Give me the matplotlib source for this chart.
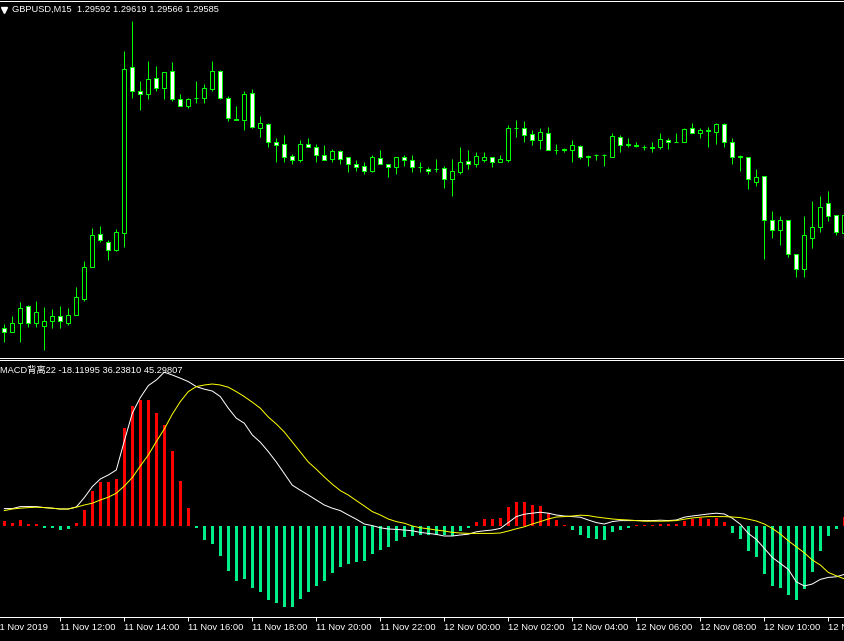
import matplotlib
matplotlib.use("Agg")
import matplotlib.pyplot as plt
from matplotlib.lines import Line2D
from matplotlib.transforms import blended_transform_factory
import numpy as np

# ---------------- data (GBPUSD M15 candles) ----------------
opens = [1.28945, 1.28937, 1.28955, 1.28988, 1.28953, 1.28949, 1.28959, 1.28967, 1.28955, 1.28971,
         1.29003, 1.29067, 1.29131, 1.29117, 1.29100, 1.29135, 1.29465, 1.29419, 1.29413, 1.29443,
         1.29425, 1.29457, 1.29401, 1.29389, 1.29404, 1.29403, 1.29423, 1.29459, 1.29403, 1.29362,
         1.29361, 1.29413, 1.29345, 1.29351, 1.29317, 1.29311, 1.29287, 1.29279, 1.29311, 1.29307,
         1.29291, 1.29283, 1.29297, 1.29285, 1.29271, 1.29267, 1.29259, 1.29283, 1.29273, 1.29265,
         1.29285, 1.29279, 1.29266, 1.29261, 1.29263, 1.29263, 1.29241, 1.29257, 1.29277, 1.29273,
         1.29281, 1.29285, 1.29277, 1.29281, 1.29344, 1.29343, 1.29331, 1.29319, 1.29333, 1.29299,
         1.29301, 1.29301, 1.29307, 1.29288, 1.29289, 1.29289, 1.29285, 1.29327, 1.29311, 1.29309,
         1.29305, 1.29305, 1.29305, 1.29319, 1.29316, 1.29317, 1.29343, 1.29335, 1.29339, 1.29337,
         1.29351, 1.29315, 1.29287, 1.29285, 1.29237, 1.29247, 1.29159, 1.29141, 1.29159, 1.29093,
         1.29063, 1.29125, 1.29147, 1.29193, 1.29169, 1.29135]
highs = [1.28952, 1.28967, 1.28996, 1.28990, 1.28998, 1.28986, 1.28982, 1.28988, 1.28984, 1.29026,
         1.29078, 1.29144, 1.29148, 1.29121, 1.29142, 1.29498, 1.29558, 1.29438, 1.29478, 1.29468,
         1.29456, 1.29476, 1.29411, 1.29403, 1.29438, 1.29433, 1.29478, 1.29460, 1.29409, 1.29387,
         1.29417, 1.29421, 1.29369, 1.29353, 1.29323, 1.29331, 1.29292, 1.29320, 1.29324, 1.29313,
         1.29309, 1.29303, 1.29301, 1.29286, 1.29279, 1.29277, 1.29291, 1.29299, 1.29273, 1.29285,
         1.29289, 1.29289, 1.29277, 1.29265, 1.29283, 1.29269, 1.29283, 1.29307, 1.29299, 1.29297,
         1.29295, 1.29285, 1.29291, 1.29351, 1.29359, 1.29357, 1.29339, 1.29345, 1.29347, 1.29313,
         1.29304, 1.29319, 1.29311, 1.29291, 1.29293, 1.29293, 1.29335, 1.29329, 1.29325, 1.29317,
         1.29311, 1.29315, 1.29335, 1.29323, 1.29333, 1.29345, 1.29353, 1.29343, 1.29347, 1.29355,
         1.29353, 1.29325, 1.29291, 1.29285, 1.29261, 1.29247, 1.29179, 1.29167, 1.29159, 1.29093,
         1.29167, 1.29197, 1.29209, 1.29217, 1.29169, 1.29200]
lows = [1.28917, 1.28937, 1.28917, 1.28947, 1.28947, 1.28901, 1.28945, 1.28945, 1.28951, 1.28971,
        1.28997, 1.29065, 1.29116, 1.29080, 1.29098, 1.29106, 1.29405, 1.29381, 1.29401, 1.29419,
        1.29401, 1.29399, 1.29387, 1.29383, 1.29393, 1.29393, 1.29417, 1.29401, 1.29357, 1.29359,
        1.29341, 1.29343, 1.29327, 1.29307, 1.29277, 1.29275, 1.29273, 1.29275, 1.29307, 1.29277,
        1.29281, 1.29277, 1.29271, 1.29257, 1.29259, 1.29253, 1.29257, 1.29271, 1.29247, 1.29251,
        1.29269, 1.29257, 1.29257, 1.29251, 1.29257, 1.29225, 1.29207, 1.29251, 1.29263, 1.29265,
        1.29275, 1.29267, 1.29275, 1.29277, 1.29327, 1.29317, 1.29311, 1.29303, 1.29299, 1.29293,
        1.29295, 1.29275, 1.29283, 1.29269, 1.29281, 1.29269, 1.29285, 1.29297, 1.29305, 1.29305,
        1.29301, 1.29297, 1.29303, 1.29303, 1.29315, 1.29315, 1.29335, 1.29325, 1.29307, 1.29313,
        1.29307, 1.29273, 1.29259, 1.29221, 1.29227, 1.29083, 1.29125, 1.29109, 1.29087, 1.29045,
        1.29047, 1.29105, 1.29137, 1.29159, 1.29129, 1.29135]
closes = [1.28937, 1.28955, 1.28983, 1.28955, 1.28975, 1.28959, 1.28969, 1.28957, 1.28971, 1.29005,
          1.29067, 1.29131, 1.29119, 1.29101, 1.29135, 1.29461, 1.29419, 1.29413, 1.29443, 1.29425,
          1.29455, 1.29401, 1.29389, 1.29401, 1.29405, 1.29423, 1.29457, 1.29405, 1.29363, 1.29361,
          1.29411, 1.29347, 1.29353, 1.29317, 1.29311, 1.29285, 1.29279, 1.29313, 1.29307, 1.29291,
          1.29281, 1.29297, 1.29283, 1.29271, 1.29267, 1.29259, 1.29285, 1.29271, 1.29267, 1.29285,
          1.29281, 1.29267, 1.29265, 1.29259, 1.29262, 1.29241, 1.29259, 1.29277, 1.29273, 1.29287,
          1.29285, 1.29277, 1.29281, 1.29345, 1.29343, 1.29331, 1.29319, 1.29335, 1.29301, 1.29300,
          1.29300, 1.29309, 1.29285, 1.29287, 1.29290, 1.29290, 1.29327, 1.29311, 1.29310, 1.29308,
          1.29305, 1.29304, 1.29321, 1.29315, 1.29317, 1.29341, 1.29335, 1.29339, 1.29338, 1.29351,
          1.29317, 1.29285, 1.29286, 1.29241, 1.29247, 1.29161, 1.29139, 1.29159, 1.29093, 1.29063,
          1.29129, 1.29147, 1.29185, 1.29169, 1.29137, 1.29169]

# ---------------- data (MACD sub-window) ----------------
hist = [2.7, 1.7, 3.2, 1.2, 1.2, -1.0, -1.0, -2.0, -1.5, 1.7,
        8.2, 17.7, 22.2, 22.2, 23.7, 49.2, 60.2, 63.2, 63.2, 56.7,
        50.7, 37.7, 22.7, 9.2, -0.9, -7.0, -9.0, -15.0, -22.5, -27.4,
        -26.5, -31.0, -33.0, -37.0, -38.5, -40.5, -40.5, -36.5, -33.0, -30.0,
        -27.5, -23.5, -20.5, -19.0, -18.0, -17.5, -14.0, -12.0, -10.5, -7.5,
        -5.5, -5.0, -4.5, -4.5, -4.5, -4.5, -5.0, -2.5, -1.0, 2.2,
        3.5, 3.5, 4.2, 9.5, 12.0, 12.0, 10.5, 10.0, 6.5, 3.2,
        0.5, -2.0, -4.5, -6.0, -6.5, -7.0, -3.0, -2.0, -0.9, 0.4,
        0.4, 0.5, 1.2, 1.2, 1.2, 2.7, 3.5, 4.2, 3.7, 4.2,
        2.2, -3.5, -6.5, -12.5, -15.5, -24.0, -30.0, -31.0, -34.5, -37.0,
        -31.5, -23.0, -12.5, -5.0, -1.4, 4.5]
macd = [8.7, 8.7, 9.7, 9.7, 9.7, 9.2, 8.9, 8.5, 8.5, 9.5,
        14.2, 19.7, 23.5, 25.5, 28.0, 42.5, 56.4, 64.2, 70.2, 73.0,
        76.9, 75.5, 73.9, 72.2, 69.7, 68.4, 67.5, 64.7, 58.9, 53.9,
        51.4, 45.5, 41.9, 37.2, 32.0, 26.2, 20.4, 17.9, 15.5, 13.0,
        10.5, 8.9, 7.7, 5.5, 3.4, 1.0, 0.2, -0.9, -1.5, -1.7,
        -2.0, -2.4, -3.2, -3.7, -4.2, -5.0, -5.0, -4.5, -4.1, -2.9,
        -2.4, -2.0, -1.2, 1.7, 4.7, 5.9, 6.4, 6.9, 6.4, 5.5,
        5.0, 4.7, 4.4, 3.0, 1.7, 1.0, 2.2, 2.7, 2.7, 2.7,
        2.7, 2.7, 2.9, 2.7, 3.0, 4.4, 5.0, 5.5, 6.0, 6.4,
        6.0, 3.9, 0.9, -3.7, -6.7, -11.2, -15.7, -18.7, -21.7, -27.9,
        -30.0, -29.0, -26.7, -25.7, -25.4, -24.2]
signal = [7.7, 8.5, 8.9, 9.2, 9.4, 9.2, 8.9, 8.5, 8.5, 9.4,
          10.5, 11.4, 13.0, 14.4, 16.4, 20.0, 24.2, 30.0, 35.5, 42.2,
          48.5, 55.9, 62.2, 67.2, 69.7, 70.5, 71.0, 70.5, 69.4, 67.2,
          64.7, 61.9, 58.9, 54.5, 51.0, 47.0, 42.0, 37.0, 32.0, 28.4,
          24.5, 20.9, 17.7, 15.5, 12.7, 10.0, 7.2, 5.5, 3.5, 2.2,
          1.4, 0.0, -0.9, -1.4, -2.0, -2.5, -3.2, -3.5, -3.7, -3.7,
          -3.7, -3.7, -3.5, -2.5, -1.4, -0.4, 1.0, 2.2, 3.5, 4.5,
          4.7, 5.0, 5.4, 5.2, 4.5, 4.0, 3.5, 3.2, 3.0, 2.7,
          2.4, 2.4, 2.4, 2.5, 2.7, 3.4, 4.0, 4.4, 4.7, 4.7,
          4.7, 4.5, 4.2, 3.4, 2.5, 1.0, -1.2, -4.0, -7.4, -10.4,
          -13.4, -17.0, -19.5, -23.2, -24.9, -26.4]

first_label = "11 Nov 2019"
time_labels = ["11 Nov 12:00", "11 Nov 14:00", "11 Nov 16:00", "11 Nov 18:00",
               "11 Nov 20:00", "11 Nov 22:00", "12 Nov 00:00", "12 Nov 02:00",
               "12 Nov 04:00", "12 Nov 06:00", "12 Nov 08:00", "12 Nov 10:00",
               "12 Nov 12:00"]
title_main = "GBPUSD,M15  1.29592 1.29619 1.29566 1.29585"
title_macd = "MACD背离22 -18.11995 36.23810 45.29807"

# ---------------- styling ----------------
W, H = 844, 641
PX = 72.0 / 100.0          # one pixel in points
LIME = "#00ff00"
RED = "#ff0000"
MINT = "#00ee88"
FS = 6.8
FAM = ["Liberation Sans", "Noto Sans CJK SC", "DejaVu Sans"]

fig = plt.figure(figsize=(W / 100, H / 100), dpi=100, facecolor="black")


def rect(top, bottom):
    return [0, 1 - bottom / H, 1, (bottom - top) / H]


ax = fig.add_axes(rect(1, 358))
ax2 = fig.add_axes(rect(360, 617))

n = len(opens)
x = np.arange(n)
o = np.array(opens); c = np.array(closes)
hi = np.array(highs); lo = np.array(lows)
xlim = (-4.3 / 8, (W - 4.3) / 8)

for a in (ax, ax2):
    a.set_facecolor("black")
    a.set_xlim(*xlim)
    for s in ("left", "right"):
        a.spines[s].set_visible(False)
    for s in ("top", "bottom"):
        a.spines[s].set_color("white")
        a.spines[s].set_linewidth(PX)
    a.set_yticks([])

# candles
ax.vlines(x, lo, hi, color=LIME, linewidth=PX)
bottoms = np.minimum(o, c)
heights = np.abs(c - o)
fills = ["white" if cc < oo else "black" for oo, cc in zip(o, c)]
ax.bar(x, heights, bottom=bottoms, width=0.5, color=fills,
       edgecolor=LIME, linewidth=PX, zorder=3)
ax.set_ylim(1.28884, 1.29598)
ax.set_xticks([])

# MACD
hcol = [RED if v > 0 else MINT for v in hist]
ax2.bar(x, hist, width=0.45, color=hcol, linewidth=0, antialiased=False)
ax2.plot(x, macd, color="white", linewidth=PX, zorder=4)
ax2.plot(x, signal, color="#ffff00", linewidth=PX, zorder=4)
ax2.set_ylim(-45.5, 83)

tick_pos = [7 + 8 * k for k in range(len(time_labels))]
ax2.set_xticks(tick_pos)
ax2.set_xticklabels([""] * len(tick_pos))
ax2.tick_params(axis="x", direction="out", length=3, width=PX, color="white")

tr = blended_transform_factory(ax2.transData, fig.transFigure)
ylab = 1 - 628 / H
for p, lab in zip(tick_pos, time_labels):
    ax2.text(p, ylab, lab, transform=tr, ha="left", va="center",
             fontsize=FS, color="white", family=FAM, clip_on=False)
ax2.text(-1.19, ylab, first_label, transform=tr, ha="left", va="center",
         fontsize=FS, color="white", family=FAM, clip_on=False)

# titles
fig.text(12 / W, 1 - 9.5 / H, title_main, ha="left", va="center",
         fontsize=6.7, color="white", family=FAM)
fig.add_artist(Line2D([3.5 / W], [1 - 9.5 / H], marker="v", markersize=4,
                      color="white", linestyle="none", transform=fig.transFigure))
fig.text(0.5 / W, 1 - 370 / H, title_macd, ha="left", va="center",
         fontsize=6.7, color="white", family=FAM)

fig.savefig("out.png", dpi=100, facecolor="black")
